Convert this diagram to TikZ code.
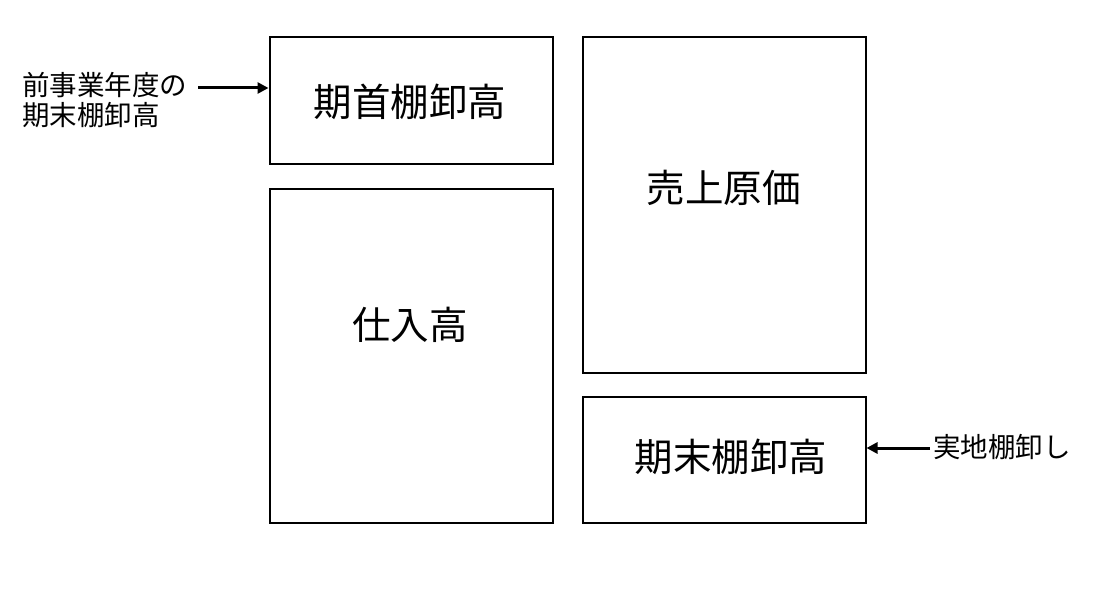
\documentclass[tikz,border=0pt]{standalone}
\usepackage{fontspec}
\setmainfont{Noto Sans CJK JP}
\usetikzlibrary{arrows.meta}
\begin{document}
\begin{tikzpicture}[x=1pt,y=-1pt,
  box/.style={draw=black,line width=2pt,minimum width=283pt,inner sep=0pt,anchor=north west},
  big/.style={font=\fontsize{38.5}{42}\selectfont,inner sep=0pt},
  small/.style={font=\fontsize{27.5}{30}\selectfont,inner sep=0pt},
  arr/.style={line width=3pt,-{Triangle[length=11pt,width=11pt]}}]
\useasboundingbox (0,0) rectangle (1118,591);
\node[box,minimum height=126pt] (a) at (268.5,36.5) {};
\node[box,minimum height=334pt] (b) at (268.5,187.5) {};
\node[box,minimum height=335pt] (c) at (581.5,36.5) {};
\node[box,minimum height=126pt] (d) at (581.5,395.5) {};
\node[big] (ta) at (410,102) {期首棚卸高};
\node[big] (tb) at (410,325) {仕入高};
\node[big] (tc) at (723.5,188) {売上原価};
\node[big] (td) at (731,457) {期末棚卸高};
\node[small,align=left,anchor=west] (l) at (22,100) {前事業年度の\\期末棚卸高};
\node[small,anchor=west] (r) at (933,447) {実地棚卸し};
\coordinate (ls) at (198,88);
\coordinate (rs) at (930,448);
\draw[arr] (ls) -- (ls -| a.west);
\draw[arr] (rs) -- (rs -| d.east);
\end{tikzpicture}
\end{document}
